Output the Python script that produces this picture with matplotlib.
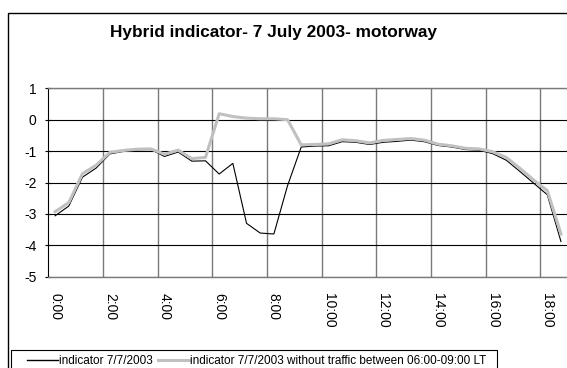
import matplotlib
matplotlib.use("Agg")
import matplotlib.pyplot as plt
from matplotlib.lines import Line2D
from matplotlib.patches import Rectangle

plt.rcParams["font.family"] = ["Liberation Sans", "DejaVu Sans"]

# Half-hourly time slots (category axis)
time_slots = [
    "0:00", "0:30", "1:00", "1:30", "2:00", "2:30", "3:00", "3:30",
    "4:00", "4:30", "5:00", "5:30", "6:00", "6:30", "7:00", "7:30",
    "8:00", "8:30", "9:00", "9:30", "10:00", "10:30", "11:00", "11:30",
    "12:00", "12:30", "13:00", "13:30", "14:00", "14:30", "15:00", "15:30",
    "16:00", "16:30", "17:00", "17:30", "18:00", "18:30",
]

indicator = [
    -3.06, -2.75, -1.83, -1.54, -1.09, -1.01, -0.96, -0.95,
    -1.17, -1.03, -1.32, -1.31, -1.73, -1.39, -3.30, -3.61,
    -3.64, -2.10, -0.87, -0.84, -0.83, -0.70, -0.72, -0.79,
    -0.72, -0.69, -0.65, -0.70, -0.82, -0.87, -0.95, -0.97,
    -1.08, -1.29, -1.65, -2.02, -2.39, -3.88,
]

indicator_no_traffic = [
    -2.93, -2.64, -1.72, -1.45, -1.04, -0.98, -0.94, -0.93,
    -1.10, -0.97, -1.24, -1.20, 0.19, 0.10, 0.05, 0.03,
    0.03, 0.00, -0.80, -0.79, -0.77, -0.64, -0.67, -0.74,
    -0.66, -0.63, -0.60, -0.65, -0.78, -0.83, -0.91, -0.93,
    -1.02, -1.20, -1.55, -1.92, -2.26, -3.64,
]

y_ticks = [-5, -4, -3, -2, -1, 0, 1]
label_step = 4

W, H = 567, 368
fig = plt.figure(figsize=(W / 100, H / 100), dpi=100)

# plot area in pixel coordinates
left_px, right_px, top_px, bottom_px = 48.3, 567.8, 88.3, 276.7
ax = fig.add_axes([left_px / W, 1 - bottom_px / H,
                   (right_px - left_px) / W, (bottom_px - top_px) / H])

x = list(range(len(time_slots)))
ax.plot(x, indicator, color="black", lw=0.8, zorder=3,
        solid_joinstyle="miter")
ax.plot(x, indicator_no_traffic, color="#c0c0c0", lw=2.2, zorder=4)

ax.set_xlim(-0.5, len(time_slots) - 0.5)
ax.set_ylim(min(y_ticks), max(y_ticks))

ax.set_yticks(y_ticks)
ax.set_yticklabels([str(v) for v in y_ticks], fontsize=10)
ax.tick_params(axis="y", direction="inout", length=5, width=0.8,
               pad=6, color="black")
ax.yaxis.grid(True, color="black", lw=0.8, zorder=1)

major = x[::label_step]
ax.set_xticks(major)
ax.set_xticklabels([time_slots[i] for i in major], rotation=270,
                   fontsize=10, va="top", ha="center")
ax.set_xticks([i - 0.5 for i in major[1:]], minor=True)
ax.tick_params(axis="x", which="both", length=0, pad=12)
ax.xaxis.grid(True, which="minor", color="#7a7a7a", lw=1.0, zorder=1)
ax.set_axisbelow(True)

ax.spines["left"].set_color("black")
ax.spines["left"].set_linewidth(0.8)
for side in ("top", "bottom", "right"):
    ax.spines[side].set_color("#7a7a7a")
    ax.spines[side].set_linewidth(1.0)

# title
fig.text(273.5 / W, 1 - 33 / H, "Hybrid indicator- 7 July 2003- motorway",
         ha="center", va="center", fontsize=12.4, fontweight="bold")

# outer chart border
fig.patches.append(Rectangle((8.3 / W, -0.1), 1.2, 1 - 13.3 / H + 0.1,
                             transform=fig.transFigure, fill=False,
                             edgecolor="black", lw=1.0))

# legend box
fig.patches.append(Rectangle((11 / W, -0.1), (497 - 11) / W,
                             1 - 350 / H + 0.1,
                             transform=fig.transFigure, fill=False,
                             edgecolor="black", lw=0.8))

handles = [Line2D([], [], color="black", lw=1.0),
           Line2D([], [], color="#c0c0c0", lw=2.2)]
labels = ["indicator 7/7/2003",
          "indicator 7/7/2003 without traffic between 06:00-09:00 LT"]
fig.legend(handles, labels, ncol=2, loc="center left",
           bbox_to_anchor=(21 / W, 1 - 361 / H),
           bbox_transform=fig.transFigure, frameon=False, borderpad=0,
           fontsize=8.5, handlelength=2.6, handletextpad=0.15,
           columnspacing=0.4)

fig.savefig("out.png", dpi=100)
